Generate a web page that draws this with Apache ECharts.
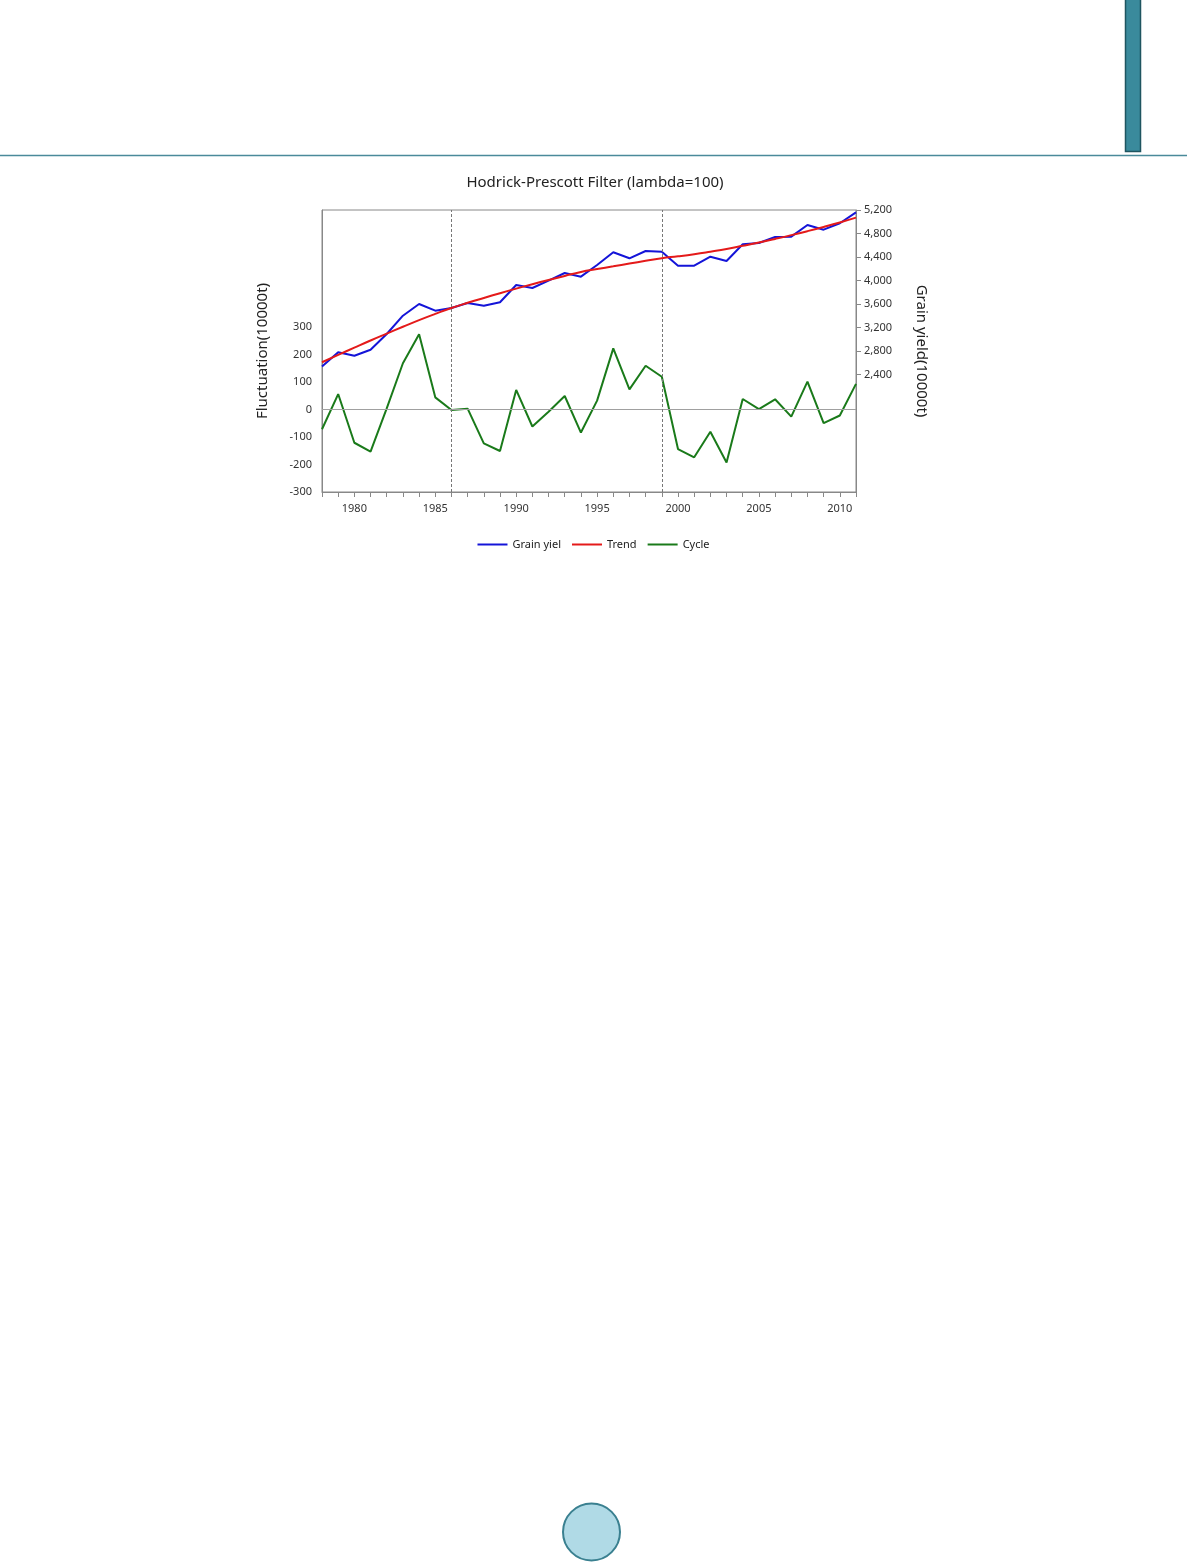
<!DOCTYPE html>
<html>
<head>
<meta charset="utf-8">
<title>Hodrick-Prescott Filter</title>
<script src="https://cdn.jsdelivr.net/npm/echarts@6/dist/echarts.min.js"></script>
<style>
  html, body { margin: 0; padding: 0; background: #fff; }
  #chart { width: 1187px; height: 1563px; }
</style>
</head>
<body>
<div id="chart"></div>
<script>
// 연도 (x축)
var years = ['1978','1979','1980','1981','1982','1983','1984','1985','1986','1987','1988',
  '1989','1990','1991','1992','1993','1994','1995','1996','1997','1998','1999','2000',
  '2001','2002','2003','2004','2005','2006','2007','2008','2009','2010','2011'];

// 곡물 생산량 (우측 축)
var grain = [2536,2778,2720,2822,3090,3401,3600,3486,3532,3617,3571,3629,3923,3872,3997,
  4128,4065,4264,4480,4378,4502,4490,4252,4252,4405,4332,4616,4638,4740,4746,4945,4865,4974,5160];

// HP 추세선 (우측 축)
var trend = [2608,2733,2857,2979,3096,3212,3326,3432,3532,3620,3703,3784,3862,3937,4009,
  4078,4145,4195,4242,4289,4335,4380,4412,4448,4490,4535,4590,4647,4708,4772,4840,4912,4988,5070];

// 순환 변동 (좌측 축)
var cycle = [-72,56,-121,-153,4,168,273,44,-2,3,-123,-151,71,-62,-8,49,-84,32,222,73,159,119,
  -144,-174,-81,-193,38,1,37,-26,101,-50,-22,93];

// 축 눈금 라벨
var left_ticks = [-300,-200,-100,0,100,200,300];
var right_ticks = [2400,2800,3200,3600,4000,4400,4800,5200];
var break_years = ['1986','1999'];

var myChart = echarts.init(document.getElementById('chart'));
var font = 'Noto Sans';

var option = {
  backgroundColor: '#fff',
  animation: false,
  title: {
    text: 'Hodrick-Prescott Filter (lambda=100)',
    left: 590, top: 170, textAlign: 'center',
    textStyle: { fontFamily: font, fontSize: 15, fontWeight: 'normal', color: '#222' }
  },
  legend: {
    data: ['Grain yiel', 'Trend', 'Cycle'],
    left: 'center', top: 534,
    itemWidth: 30, itemHeight: 2, itemGap: 11,
    icon: 'rect',
    textStyle: { fontFamily: font, fontSize: 11, color: '#222' }
  },
  grid: {
    left: 322, right: 331, top: 210, bottom: 1071,
    show: true, borderColor: '#888', borderWidth: 1
  },
  xAxis: {
    type: 'category',
    data: years,
    boundaryGap: false,
    axisLine: { onZero: false, lineStyle: { color: '#888' } },
    axisTick: { interval: 0, length: 5, lineStyle: { color: '#888' } },
    axisLabel: {
      interval: function (i, v) { return (+v) % 5 === 0; },
      fontFamily: font, fontSize: 11, color: '#333', margin: 11
    },
    splitLine: { show: false }
  },
  yAxis: [
    {
      type: 'value', min: -300, max: 725, interval: 100,
      name: 'Fluctuation(10000t)', nameLocation: 'middle', nameGap: 52,
      nameTextStyle: { fontFamily: font, fontSize: 15, color: '#222' },
      nameRotate: 90,
      axisLine: { show: true, lineStyle: { color: '#888' } },
      axisTick: { show: false },
      axisLabel: { customValues: left_ticks, fontFamily: font, fontSize: 11, color: '#333', margin: 10 },
      splitLine: { show: false }
    },
    {
      type: 'value', min: 400, max: 5200, interval: 400,
      name: 'Grain yield(10000t)', nameLocation: 'middle', nameGap: 58,
      nameTextStyle: { fontFamily: font, fontSize: 15, color: '#222' },
      nameRotate: -90,
      position: 'right',
      axisLine: { show: true, lineStyle: { color: '#888' } },
      axisTick: { show: true, customValues: right_ticks, length: 5, lineStyle: { color: '#888' } },
      axisLabel: {
        customValues: right_ticks, fontFamily: font, fontSize: 11, color: '#333', margin: 8,
        formatter: function (v) { return v.toLocaleString('en-US'); }
      },
      splitLine: { show: false }
    }
  ],
  series: [
    {
      name: 'Grain yiel', type: 'line', yAxisIndex: 1, data: grain,
      symbol: 'none', lineStyle: { color: '#1414d8', width: 2 }, itemStyle: { color: '#1414d8' },
      z: 3
    },
    {
      name: 'Trend', type: 'line', yAxisIndex: 1, data: trend,
      symbol: 'none', smooth: true, lineStyle: { color: '#e41a1a', width: 2 }, itemStyle: { color: '#e41a1a' },
      z: 4
    },
    {
      name: 'Cycle', type: 'line', yAxisIndex: 0, data: cycle,
      symbol: 'none', lineStyle: { color: '#1a7a1a', width: 2 }, itemStyle: { color: '#1a7a1a' },
      z: 3,
      markLine: {
        silent: true, symbol: 'none', label: { show: false },
        data: [
          { yAxis: 0, lineStyle: { color: '#a0a0a0', type: 'solid', width: 1 } },
          { xAxis: break_years[0], lineStyle: { color: '#777', type: [3, 2], width: 1 } },
          { xAxis: break_years[1], lineStyle: { color: '#777', type: [3, 2], width: 1 } }
        ]
      }
    }
  ],
  graphic: [
    { type: 'rect', shape: { x: 1125.5, y: -2, width: 15, height: 153.5 },
      style: { fill: '#3a8a9c', stroke: '#1f5560', lineWidth: 1.5 } },
    { type: 'line', shape: { x1: 0, y1: 155.5, x2: 1187, y2: 155.5 },
      style: { stroke: '#4a8a9a', lineWidth: 1.5 } },
    { type: 'circle', shape: { cx: 591.5, cy: 1532, r: 28.5 },
      style: { fill: '#b0dae6', stroke: '#3a8090', lineWidth: 2 } }
  ]
};

myChart.setOption(option);
</script>
</body>
</html>
